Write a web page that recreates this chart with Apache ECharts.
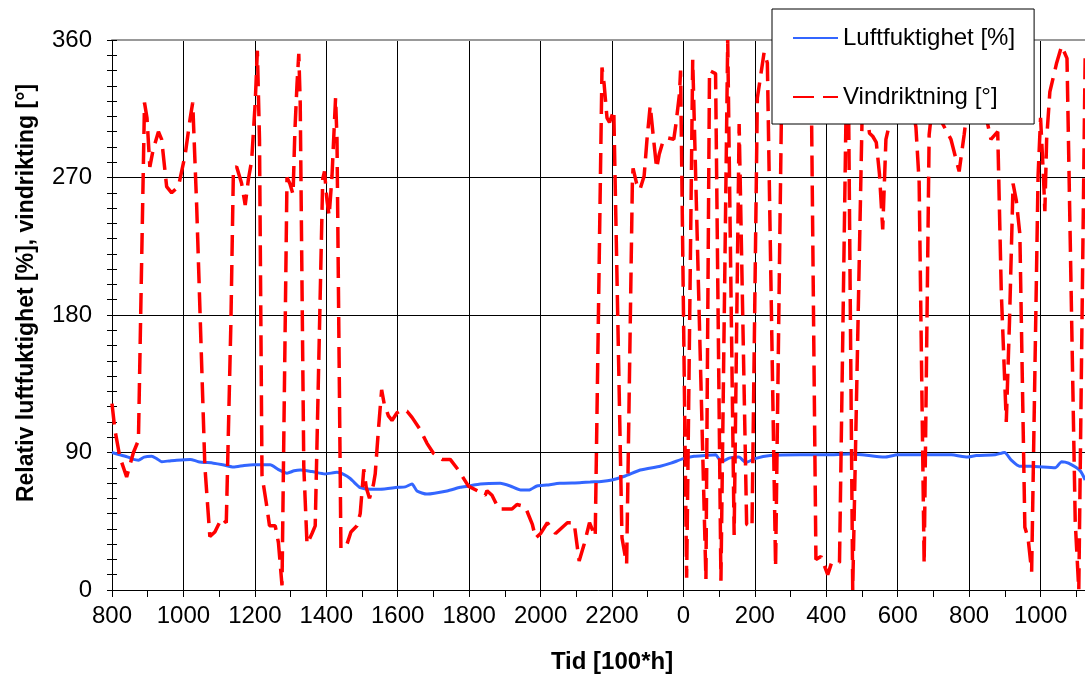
<!DOCTYPE html>
<html>
<head>
<meta charset="utf-8">
<script src="https://cdn.jsdelivr.net/npm/echarts@6/dist/echarts.min.js"></script>
<style>
html,body{margin:0;padding:0;background:#fff;}
#chart{width:1085px;height:677px;}
</style>
</head>
<body>
<div id="chart"></div>
<script>
// X axis runs continuously in [100*h]; values above 2400 belong to the next day
const xTickLabels = ['800','1000','1200','1400','1600','1800','2000','2200','0','200','400','600','800','1000'];
const yTickLabels = ['0','90','180','270','360'];

const humTime = [800,822,845,860,874,890,911,925,939,960,981,1019,1042,1084,1110,1140,1170,1196,1243,1265,1290,1310,1327,1360,1397,1430,1450,1467,1480,1495,1523,1551,1600,1621,1640,1654,1682,1738,1775,1800,1831,1887,1915,1944,1967,1990,2017,2054,2110,2139,2170,2200,2237,2279,2335,2365,2400,2430,2461,2490,2506,2530,2555,2575,2600,2643,2727,2800,2867,2900,2963,3000,3150,3195,3220,3273,3299,3318,3341,3371,3441,3459,3478,3511,3525];
const humidity = [90,88.5,87,85.5,85,87,87.5,86,84,84.5,85,85.5,84,83,82,80.5,81.5,82,82,79,76.5,78,78.5,77.5,76,77,75.5,73,70,67,66,66,67.2,67.5,69.4,64.8,62.8,64.8,67.2,68.1,69.4,69.8,68.1,65.4,65.4,68.1,68.7,69.8,70.2,70.7,71,72,74.6,78.5,81,83,86,87.5,88,88.5,84,86.5,87,83.5,86,88,88.5,88.5,89,88.5,87,88.5,88.5,87,88,88.5,90,85,81,81,80,84,83,78,72];

const dirTime = [800,808,822,841,860,874,891,898,906,915,930,939,953,967,986,1005,1019,1026,1037,1060,1074,1088,1107,1120,1133,1140,1149,1163,1173,1182,1191,1201,1207,1213,1220,1232,1241,1257,1266,1276,1290,1298,1307,1312,1318,1323,1327,1337,1346,1360,1369,1390,1395,1402,1408,1416,1422,1426,1430,1441,1458,1469,1486,1495,1505,1512,1521,1532,1537,1546,1555,1562,1574,1584,1598,1612,1626,1640,1663,1682,1700,1724,1747,1770,1798,1831,1845,1850,1864,1883,1920,1934,1957,1977,1986,2000,2019,2042,2075,2094,2108,2122,2137,2153,2172,2178,2186,2193,2205,2228,2241,2257,2259,2269,2278,2290,2298,2307,2316,2325,2332,2342,2354,2373,2379,2389,2392,2409,2426,2463,2473,2490,2505,2524,2542,2556,2577,2592,2607,2626,2635,2658,2674,2700,2730,2759,2771,2785,2804,2815,2837,2855,2862,2874,2902,2921,2930,2940,2949,2958,2967,2977,2995,3015,3035,3051,3060,3074,3088,3105,3126,3149,3172,3186,3205,3230,3252,3261,3280,3290,3304,3313,3323,3332,3342,3356,3365,3375,3393,3400,3408,3412,3417,3426,3445,3459,3474,3497,3507,3525];
const direction = [122,105,87,74,90,98,319,309,277,288,300,295,264,260,264,285,309,319,252,81,35,38,47,44,176,276,277,266,252,269,281,319,353,295,75,57,42,42,31,3,270,266,259,300,331,351,319,81,30,37,42,269,274,255,245,271,302,322,295,27,30,38,42,50,79,67,60,69,76,105,131,122,114,111,116,118,117,113,105,96,89.5,85.5,85.5,78.5,68,64,62,65,62,53,53,56,54.5,43,34,37,44,37,44,44,19,30,44,35,342,331,309,306,314,34,17,266,276,266,262,271,295,317,296,276,285,293,296,295,305,325,340,8,347,7,340,338,6,360,36,305,43,41,322,352,345,15,305,338,345,305,20,22,10,18,18,308,330,0,330,299,297,293,272,236,295,305,335,345,325,303,267,17,298,335,305,295,274,298,335,340,305,295,300,195,110,176,266,255,233,41,34,12,271,309,271,248,295,326,345,356,348,45,0,352];

const FONT = "'Liberation Sans', Arial, sans-serif";
const humData = humTime.map((t, i) => [t, humidity[i]]);
const dirData = dirTime.map((t, i) => [t, direction[i]]);

const chart = echarts.init(document.getElementById('chart'), null, {renderer: 'canvas'});
chart.setOption({
  animation: false,
  backgroundColor: '#ffffff',
  grid: {left: 112, right: -27, top: 40, bottom: 87, containLabel: false, outerBoundsMode: 'none'},
  legend: {
    orient: 'vertical',
    left: 772, top: 9,
    padding: [17, 19, 15, 20],
    itemWidth: 45, itemHeight: 14, itemGap: 35,
    backgroundColor: '#ffffff',
    borderColor: '#000000', borderWidth: 1,
    itemStyle: {opacity: 0},
    textStyle: {fontFamily: FONT, fontSize: 24, color: '#000', lineHeight: 24},
    data: ['Luftfuktighet [%]', 'Vindriktning [°]'],
    z: 10
  },
  xAxis: [{
    type: 'value', min: 800, max: 3600, interval: 200, position: 'bottom',
    axisLine: {show: true, onZero: false, lineStyle: {color: '#000', width: 1}},
    axisTick: {show: true, length: 7, lineStyle: {color: '#000', width: 1}},
    minorTick: {show: true, splitNumber: 2, length: 7, lineStyle: {color: '#000', width: 1}},
    axisLabel: {
      fontFamily: FONT, fontSize: 24, color: '#000', margin: 14,
      formatter: function (v) {
        const i = Math.round((v - 800) / 200);
        return (Math.abs((v - 800) / 200 - i) < 1e-6 && i >= 0 && i < xTickLabels.length) ? xTickLabels[i] : '';
      }
    },
    splitLine: {show: true, showMinLine: false, lineStyle: {color: '#000', width: 1}},
    name: 'Tid [100*h]', nameLocation: 'middle', nameGap: 60,
    nameTextStyle: {fontFamily: FONT, fontSize: 24, fontWeight: 'bold', color: '#000'}
  }, {
    type: 'value', min: 800, max: 3600, position: 'top',
    axisLine: {show: true, onZero: false, lineStyle: {color: '#999999', width: 2}},
    axisTick: {show: false}, axisLabel: {show: false}, splitLine: {show: false}
  }],
  yAxis: [{
    type: 'value', min: 0, max: 360, interval: 90, position: 'left',
    axisLine: {show: true, onZero: false, lineStyle: {color: '#000', width: 1}},
    axisTick: {show: true, length: 5, lineStyle: {color: '#000', width: 1}},
    minorTick: {show: true, splitNumber: 9, length: 5, lineStyle: {color: '#000', width: 1}},
    axisLabel: {
      fontFamily: FONT, fontSize: 24, color: '#000', margin: 20,
      formatter: function (v) { const i = Math.round(v / 90); return yTickLabels[i] !== undefined ? yTickLabels[i] : ''; }
    },
    splitLine: {show: true, showMinLine: false, showMaxLine: false, lineStyle: {color: '#000', width: 1}},
    name: 'Relativ luftfuktighet [%], vindrikting [°]', nameLocation: 'middle', nameGap: 74,
    nameTextStyle: {fontFamily: FONT, fontSize: 23, fontWeight: 'bold', color: '#000', padding: [0, 0, 0, 44]}
  }, {
    type: 'value', min: 0, max: 360, interval: 90, position: 'left', offset: 0,
    axisLine: {show: false},
    axisTick: {show: true, inside: true, length: 5, lineStyle: {color: '#000', width: 1}},
    minorTick: {show: true, splitNumber: 9, length: 5, lineStyle: {color: '#000', width: 1}},
    axisLabel: {show: false}, splitLine: {show: false}
  }],
  series: [{
    name: 'Luftfuktighet [%]', type: 'line', xAxisIndex: 0, yAxisIndex: 0,
    data: humData, symbol: 'none', showSymbol: false, smooth: 0.2,
    lineStyle: {color: '#3366ff', width: 3}, itemStyle: {color: '#3366ff'}, z: 2
  }, {
    name: 'Vindriktning [°]', type: 'line', xAxisIndex: 0, yAxisIndex: 0,
    data: dirData, symbol: 'none', showSymbol: false, smooth: false,
    lineStyle: {color: '#ff0000', width: 3.5, type: [21, 9]}, itemStyle: {color: '#ff0000'}, z: 3
  }]
});
</script>
</body>
</html>
